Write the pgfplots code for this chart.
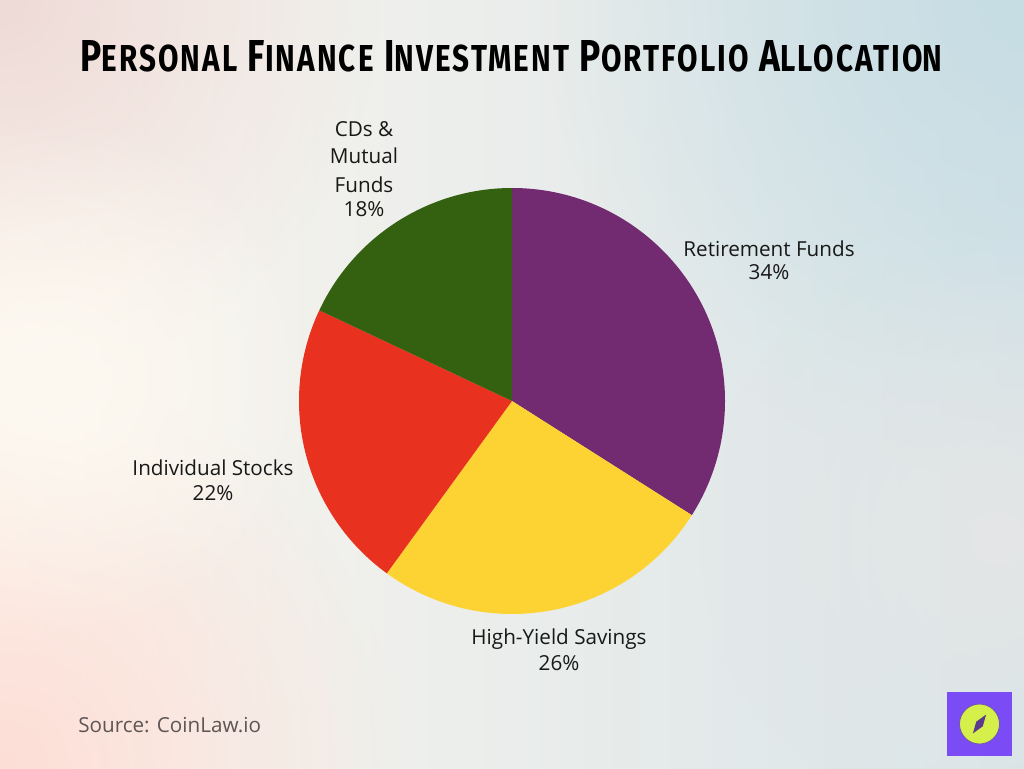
\documentclass[border=0pt]{standalone}
\usepackage{pgfplots}
\pgfplotsset{compat=1.18}
\usepackage{pgfplotstable}
\usepackage{graphicx}
\usepackage{fontspec}
\setmainfont{Open Sans}
\newfontfamily\titlefont[LetterSpace=7, WordSpace=3]{Fira Sans}
\usetikzlibrary{fadings}
\tikzfading[name=radfade, inner color=transparent!0, outer color=transparent!100]

\definecolor{cRet}{HTML}{722A70}
\definecolor{cHY}{HTML}{FDD333}
\definecolor{cInd}{HTML}{E8321F}
\definecolor{cCD}{HTML}{33610F}
\definecolor{txt}{HTML}{181818}
\definecolor{srcgray}{HTML}{5E5554}
\definecolor{bgL}{HTML}{FCF6EE}
\definecolor{bgR}{HTML}{D8E4E8}
\definecolor{bgTL}{HTML}{EEDAD7}
\definecolor{bgBL}{HTML}{FDDED6}
\definecolor{bgTR}{HTML}{C6DDE4}
\definecolor{bgML}{HTML}{FDF9F1}
\definecolor{bgMR}{HTML}{E4E6E6}
\definecolor{logoSq}{HTML}{7B4CF5}
\definecolor{logoCi}{HTML}{D5F04B}
\definecolor{logoRim}{HTML}{6E55AA}
\definecolor{logoNd}{HTML}{5B3A8E}

\pgfplotstableread{
label pct
Retirement 34
HighYield 26
Individual 22
CDs 18
}\piedata

\newcommand\smc[1]{{\fontsize{26}{26}\selectfont #1}}
\newcommand\bgc[1]{{\fontsize{31}{31}\selectfont #1}}

\begin{document}
\begin{tikzpicture}[x=0.75pt,y=0.75pt]
% background
\clip (0,0) rectangle (1024,768);
\shade[left color=bgL, right color=bgR] (0,0) rectangle (1024,768);
\fill[bgTL, path fading=radfade] (0,768) circle (380);
\fill[bgBL, path fading=radfade] (0,0) circle (400);
\fill[bgTR, path fading=radfade] (1024,768) circle (480);
\fill[bgML, path fading=radfade] (60,390) circle (260);
\fill[bgMR, path fading=radfade] (1000,230) circle (300);

% compute angles
\pgfplotstablegetelem{0}{pct}\of\piedata \edef\pA{\pgfplotsretval}
\pgfplotstablegetelem{1}{pct}\of\piedata \edef\pB{\pgfplotsretval}
\pgfplotstablegetelem{2}{pct}\of\piedata \edef\pC{\pgfplotsretval}
\pgfplotstablegetelem{3}{pct}\of\piedata \edef\pD{\pgfplotsretval}
\pgfmathsetmacro\aA{90}
\pgfmathsetmacro\aB{90-3.6*\pA}
\pgfmathsetmacro\aC{\aB-3.6*\pB}
\pgfmathsetmacro\aD{\aC-3.6*\pC}
\pgfmathsetmacro\aE{\aD-3.6*\pD}

\begin{axis}[at={(384pt,275.25pt)}, anchor=center, width=319.5pt, height=319.5pt,
  scale only axis, hide axis, xmin=-1, xmax=1, ymin=-1, ymax=1, clip=false]
\addplot[draw=none] coordinates {(0,0)};
\fill[cRet] (axis cs:0,0) -- (axis cs:{cos(\aA)},{sin(\aA)}) arc[start angle=\aA, end angle=\aB, radius=159.75pt] -- cycle;
\fill[cHY] (axis cs:0,0) -- (axis cs:{cos(\aB)},{sin(\aB)}) arc[start angle=\aB, end angle=\aC, radius=159.75pt] -- cycle;
\fill[cInd] (axis cs:0,0) -- (axis cs:{cos(\aC)},{sin(\aC)}) arc[start angle=\aC, end angle=\aD, radius=159.75pt] -- cycle;
\fill[cCD] (axis cs:0,0) -- (axis cs:{cos(\aD)},{sin(\aD)}) arc[start angle=\aD, end angle=\aE, radius=159.75pt] -- cycle;
\end{axis}

% title
\node[anchor=base west, inner sep=0, text=black] at (80,696)
 {\resizebox{646.5pt}{23.25pt}{\titlefont\bfseries \bgc{P}\smc{ERSONAL} \bgc{F}\smc{INANCE} \bgc{I}\smc{NVESTMENT} \bgc{P}\smc{ORTFOLIO} \bgc{A}\smc{LLOCATIO}\smc{\addfontfeature{LetterSpace=0}N}}};

% labels
\tikzset{lbl/.style={anchor=base, inner sep=0, text=txt, font=\fontsize{15.5}{18}\selectfont}}
\node[lbl] at (769,511) {Retirement Funds};
\node[lbl] at (769,488) {34\%};
\node[lbl] at (559,123.5) {High-Yield Savings};
\node[lbl] at (559,97.5) {26\%};
\node[lbl] at (213,292.5) {Individual Stocks};
\node[lbl] at (213,267.5) {22\%};
\node[lbl] at (364,631.3) {CDs \&};
\node[lbl] at (364,604) {Mutual};
\node[lbl] at (364,575) {Funds};
\node[lbl] at (364,551) {18\%};

% source
\node[anchor=base west, inner sep=0, text=srcgray, font=\fontsize{15.5}{18}\selectfont] at (78,35.5) {Source: CoinLaw.io};

% logo
\fill[logoSq] (947,12) rectangle (1012,76);
\filldraw[fill=logoCi, draw=logoRim, line width=0.6pt] (979.5,44) circle (20);
\fill[logoNd, rotate around={55:(979.5,44)}] (968,44) -- (979.5,48) -- (991,44) -- (979.5,40) -- cycle;
\end{tikzpicture}
\end{document}
